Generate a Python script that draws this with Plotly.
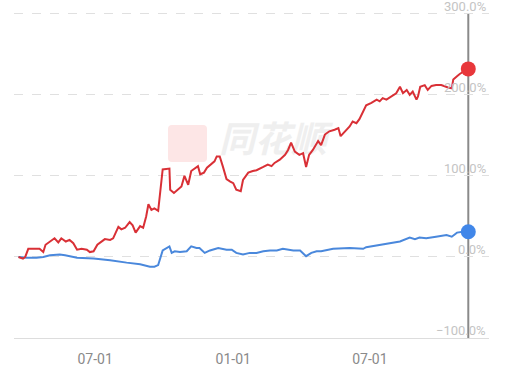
import plotly.graph_objects as go

red_dates = [
    "2023-03-21", "2023-03-27", "2023-03-30", "2023-04-03", "2023-04-18", "2023-04-23", "2023-04-26",
    "2023-05-04", "2023-05-08", "2023-05-13", "2023-05-17", "2023-05-23", "2023-05-28", "2023-06-02",
    "2023-06-07", "2023-06-13", "2023-06-20", "2023-06-24", "2023-06-29", "2023-07-04", "2023-07-10",
    "2023-07-14", "2023-07-21", "2023-07-25", "2023-08-01", "2023-08-05", "2023-08-10", "2023-08-16",
    "2023-08-20", "2023-08-24", "2023-08-30", "2023-09-03", "2023-09-07", "2023-09-10", "2023-09-14",
    "2023-09-18", "2023-09-23", "2023-09-27", "2023-09-29", "2023-10-08", "2023-10-09", "2023-10-14",
    "2023-10-19", "2023-10-24", "2023-10-28", "2023-11-02", "2023-11-06", "2023-11-11", "2023-11-15",
    "2023-11-18", "2023-11-23", "2023-11-27", "2023-12-03", "2023-12-07", "2023-12-10", "2023-12-14",
    "2023-12-18", "2023-12-23", "2023-12-28", "2024-01-01", "2024-01-05", "2024-01-11", "2024-01-14",
    "2024-01-21", "2024-01-27", "2024-02-01", "2024-02-10", "2024-02-16", "2024-02-21", "2024-02-25",
    "2024-03-03", "2024-03-10", "2024-03-14", "2024-03-18", "2024-03-23", "2024-03-29", "2024-04-03",
    "2024-04-07", "2024-04-11", "2024-04-16", "2024-04-23", "2024-04-27", "2024-05-02", "2024-05-08",
    "2024-05-15", "2024-05-20", "2024-05-23", "2024-05-29", "2024-06-04", "2024-06-08", "2024-06-13",
    "2024-06-17", "2024-06-22", "2024-06-26", "2024-07-03", "2024-07-10", "2024-07-14", "2024-07-18",
    "2024-07-23", "2024-07-30", "2024-08-05", "2024-08-10", "2024-08-14", "2024-08-19", "2024-08-23",
    "2024-08-27", "2024-09-01", "2024-09-03", "2024-09-06", "2024-09-12", "2024-09-16", "2024-09-21",
    "2024-09-27", "2024-10-04", "2024-10-09", "2024-10-13", "2024-10-18", "2024-10-20", "2024-10-25",
    "2024-10-29", "2024-11-09",
]
red_values = [
    0, -2, 0, 10, 10, 6, 15,
    20, 23, 18, 23, 19, 21, 17,
    9, 10, 9, 6, 7, 15, 19,
    22, 21, 23, 37, 34, 36, 43,
    39, 30, 38, 36, 50, 65, 58,
    60, 57, 87, 108, 109, 83, 79,
    83, 87, 100, 89, 106, 109, 112,
    102, 104, 110, 115, 118, 124, 124,
    112, 96, 93, 91, 83, 81, 95,
    104, 106, 107, 111, 114, 112, 116,
    120, 126, 132, 141, 130, 126, 128,
    111, 126, 132, 143, 138, 151, 155,
    157, 159, 149, 155, 161, 167, 165,
    170, 180, 187, 190, 194, 192, 196,
    194, 198, 202, 210, 202, 206, 200,
    204, 194, 198, 210, 212, 206, 211,
    212, 212, 210, 209, 208, 219, 223,
    226, 232,
]

blue_dates = [
    "2023-03-21", "2023-04-01", "2023-04-14", "2023-04-23", "2023-05-02", "2023-05-15", "2023-05-22",
    "2023-06-07", "2023-06-29", "2023-07-21", "2023-08-12", "2023-08-30", "2023-09-12", "2023-09-18",
    "2023-09-23", "2023-09-29", "2023-10-08", "2023-10-11", "2023-10-15", "2023-10-22", "2023-10-31",
    "2023-11-06", "2023-11-13", "2023-11-17", "2023-11-24", "2023-12-01", "2023-12-12", "2023-12-23",
    "2023-12-30", "2024-01-05", "2024-01-14", "2024-01-23", "2024-02-01", "2024-02-10", "2024-02-19",
    "2024-02-28", "2024-03-07", "2024-03-14", "2024-03-21", "2024-03-30", "2024-04-05", "2024-04-07",
    "2024-04-14", "2024-04-21", "2024-04-27", "2024-05-13", "2024-06-04", "2024-06-22", "2024-06-26",
    "2024-07-18", "2024-08-10", "2024-08-23", "2024-08-30", "2024-09-05", "2024-09-14", "2024-09-27",
    "2024-10-11", "2024-10-18", "2024-10-25", "2024-11-02", "2024-11-09",
]
blue_values = [
    0, -1, -1, 0, 2, 3, 2,
    -1, -2, -4, -7, -9, -12, -12,
    -10, 8, 13, 5, 7, 6, 7,
    13, 11, 11, 5, 8, 11, 9,
    9, 5, 3, 5, 5, 7, 8,
    8, 10, 9, 8, 8, 3, 1,
    5, 7, 7, 10, 11, 10, 12,
    15, 19, 24, 22, 24, 23, 25,
    27, 25, 30, 31, 31,
]

y_ticks = [-100, 0, 100, 200, 300]
y_tick_labels = ["\u2212100.0%", "0.0%", "100.0%", "200.0%", "300.0%"]
x_ticks = ["2023-07-01", "2024-01-01", "2024-07-01"]
x_tick_labels = ["07-01", "01-01", "07-01"]

RED = "#d93036"
BLUE = "#4a88dc"

# plot-area geometry (pixels) used to place the watermark in paper coords
L, R, T, B = 14, 489, 0, 338
W, H = R - L, B - T


def px(xp):
    return (xp - L) / W


def py(yp):
    return (B - yp) / H


fig = go.Figure()

# watermark logo square
fig.add_shape(type="path", xref="paper", yref="paper",
              path=(f"M {px(172)},{py(125)} L {px(203)},{py(125)} Q {px(207)},{py(125)} {px(207)},{py(129)} "
                    f"L {px(207)},{py(158)} Q {px(207)},{py(162)} {px(203)},{py(162)} "
                    f"L {px(172)},{py(162)} Q {px(168)},{py(162)} {px(168)},{py(158)} "
                    f"L {px(168)},{py(129)} Q {px(168)},{py(125)} {px(172)},{py(125)} Z"),
              fillcolor="#fde6e6", line=dict(width=0), layer="below")

# watermark text: first trace in the main axes so the lines draw above it
fig.add_trace(go.Scatter(x=["2024-02-23"], y=[140], mode="text",
                         text=["<i><b>同花顺</b></i>"], textposition="middle center",
                         textfont=dict(family="Noto Sans CJK SC", size=36, color="#efefef"),
                         hoverinfo="skip"))

fig.add_trace(go.Scatter(x=blue_dates, y=blue_values, mode="lines",
                         line=dict(color=BLUE, width=2), hoverinfo="skip"))
fig.add_trace(go.Scatter(x=red_dates, y=red_values, mode="lines",
                         line=dict(color=RED, width=2), hoverinfo="skip"))

# end-point dots
fig.add_trace(go.Scatter(x=[red_dates[-1]], y=[red_values[-1]], mode="markers",
                         marker=dict(color="#e8373b", size=15, line=dict(width=0))))
fig.add_trace(go.Scatter(x=[blue_dates[-1]], y=[blue_values[-1]], mode="markers",
                         marker=dict(color="#4187e9", size=15, line=dict(width=0))))

# vertical cursor line
fig.add_shape(type="line", xref="x", yref="y",
              x0=red_dates[-1], x1=red_dates[-1], y0=-100, y1=300,
              line=dict(color="#8a8a8a", width=2), layer="below")

# right-side y labels, sitting just above their gridlines
for v, t in zip(y_ticks, y_tick_labels):
    fig.add_annotation(xref="paper", yref="y", x=1, y=v, xanchor="right", yanchor="bottom",
                       xshift=-1, yshift=-2, showarrow=False, text=t,
                       font=dict(family="Roboto", size=13, color="#c4c4c4"))

fig.update_layout(
    width=510, height=369,
    margin=dict(l=L, r=510 - R, t=T, b=369 - B),
    paper_bgcolor="white", plot_bgcolor="white",
    showlegend=False,
    font=dict(family="Roboto", size=12, color="#888888"),
    xaxis=dict(
        type="date",
        range=["2023-03-15", "2024-12-06 14:00"],
        tickvals=x_ticks, ticktext=x_tick_labels,
        showgrid=False, zeroline=False,
        showline=True, linecolor="#dddddd", linewidth=1,
        ticks="", ticklabelstandoff=8,
        tickfont=dict(family="Roboto", size=14, color="#8a8a8a"),
    ),
    yaxis=dict(
        range=[-100, 317],
        side="right",
        tickvals=y_ticks,
        showticklabels=False,
        showgrid=True, gridcolor="#e0e0e0", griddash="dash", gridwidth=1,
        zeroline=False, showline=False, ticks="",
    ),
)

fig.write_html("out.html")
